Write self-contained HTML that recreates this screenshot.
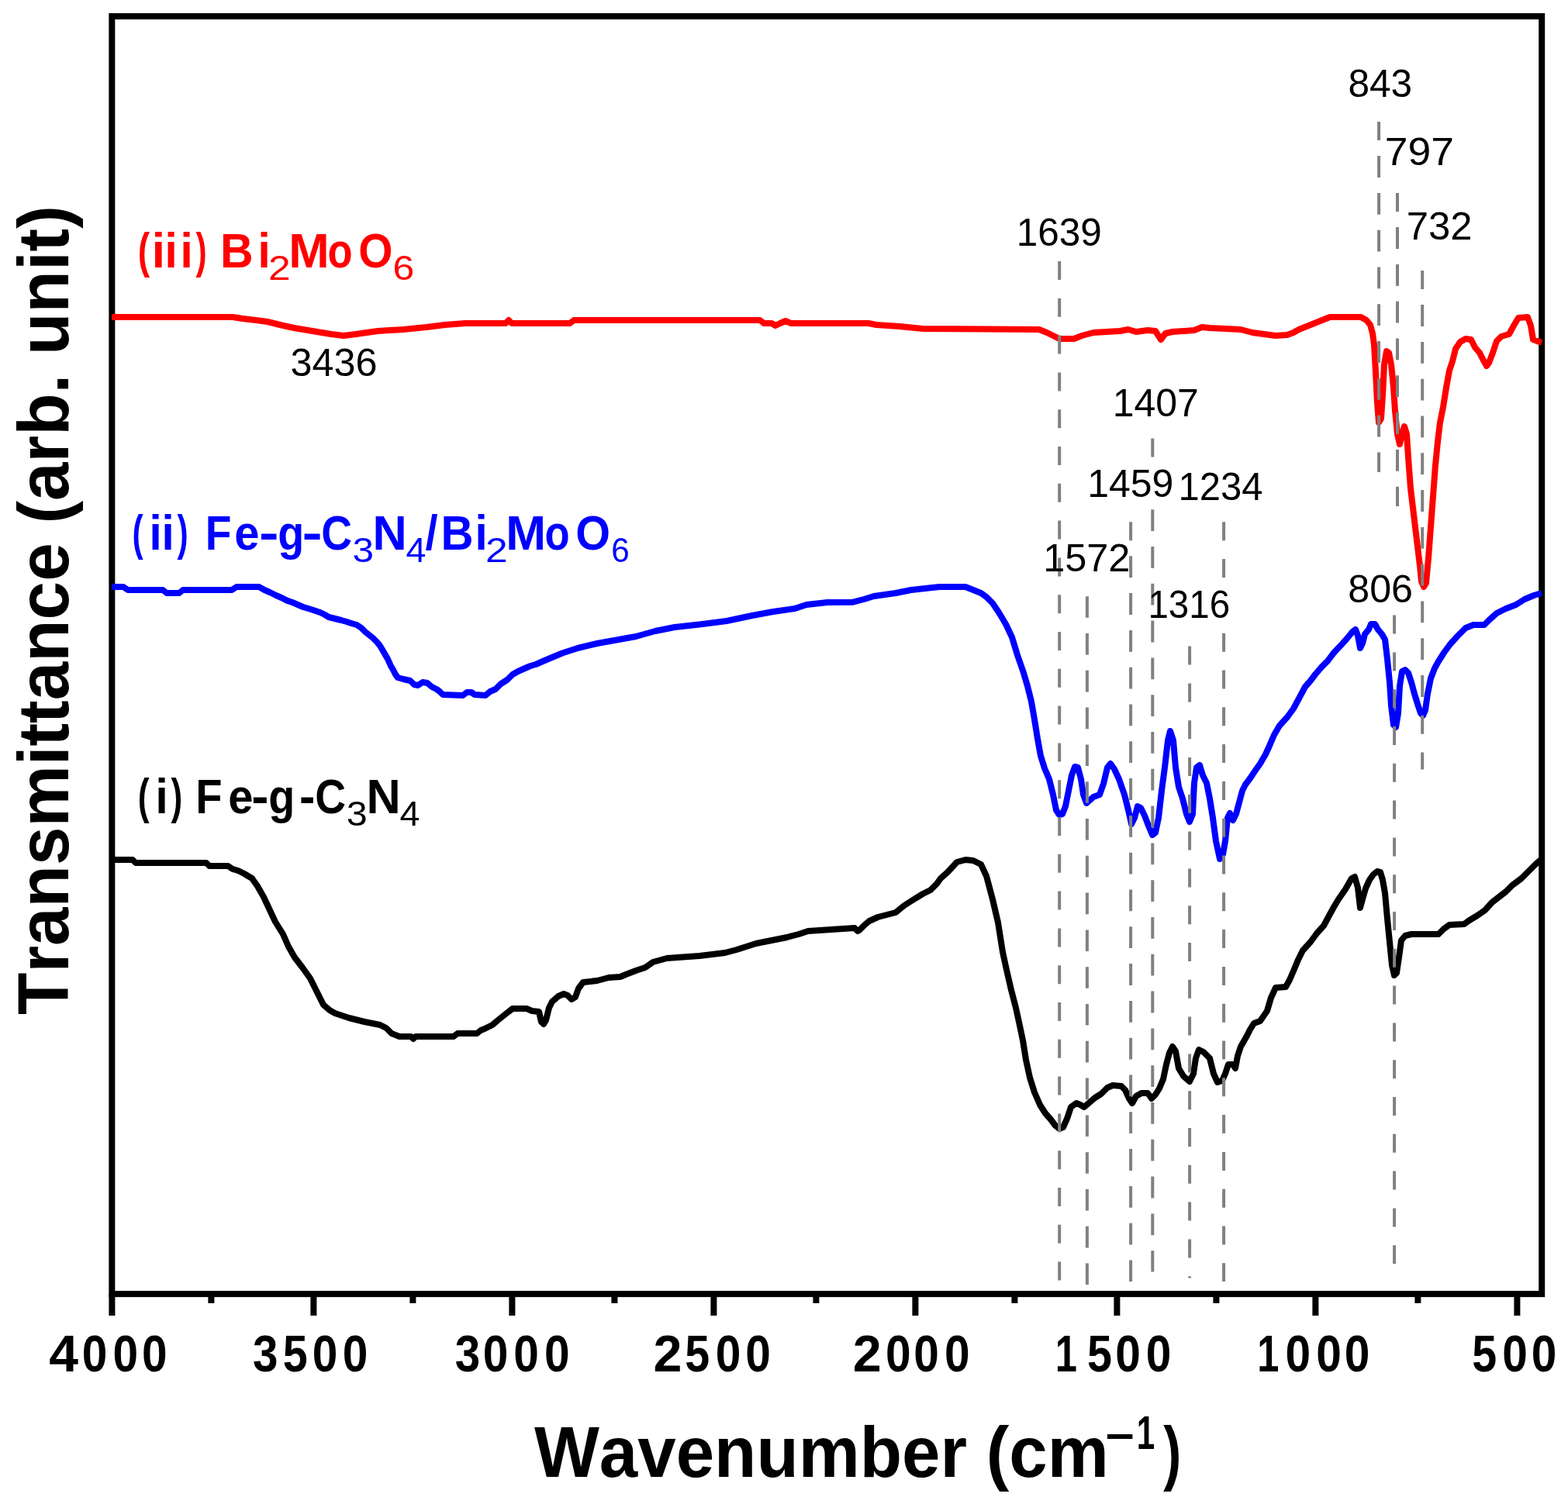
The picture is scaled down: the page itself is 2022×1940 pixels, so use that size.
<!DOCTYPE html><html><head><meta charset="utf-8"><title>FTIR spectra</title>
<style>html,body{margin:0;padding:0;background:#fff;}svg{display:block;}text{font-family:'Liberation Sans', Arial, Helvetica, sans-serif;font-kerning:none;}</style></head><body>
<svg width="2022" height="1940" viewBox="0 0 2022 1940">
<rect x="0" y="0" width="2022" height="1940" fill="#fff"/>
<rect x="144.35" y="21.05" width="1843.85" height="1648.05" fill="none" stroke="#000" stroke-width="8"/>
<path d="M144.4,1669V1697M272.4,1669V1681M404.4,1669V1697M532.4,1669V1681M660.4,1669V1697M792.4,1669V1681M920.4,1669V1697M1052.4,1669V1681M1180.4,1669V1697M1308.4,1669V1681M1440.4,1669V1697M1568.4,1669V1681M1696.4,1669V1697M1828.4,1669V1681M1956.4,1669V1697" stroke="#000" stroke-width="8" fill="none"/>
<text y="1768.6" font-size="67.5" font-weight="bold"><tspan x="63.27" textLength="37.79" lengthAdjust="spacingAndGlyphs">4</tspan><tspan x="105.83" textLength="32.63" lengthAdjust="spacingAndGlyphs">0</tspan><tspan x="145.53" textLength="32.63" lengthAdjust="spacingAndGlyphs">0</tspan><tspan x="183.03" textLength="32.63" lengthAdjust="spacingAndGlyphs">0</tspan></text>
<text y="1768.6" font-size="67.5" font-weight="bold"><tspan x="325.96" textLength="32.45" lengthAdjust="spacingAndGlyphs">3</tspan><tspan x="364.83" textLength="31.97" lengthAdjust="spacingAndGlyphs">5</tspan><tspan x="402.63" textLength="32.63" lengthAdjust="spacingAndGlyphs">0</tspan><tspan x="441.83" textLength="32.63" lengthAdjust="spacingAndGlyphs">0</tspan></text>
<text y="1768.6" font-size="67.5" font-weight="bold"><tspan x="586.66" textLength="32.45" lengthAdjust="spacingAndGlyphs">3</tspan><tspan x="622.73" textLength="32.63" lengthAdjust="spacingAndGlyphs">0</tspan><tspan x="662.23" textLength="32.63" lengthAdjust="spacingAndGlyphs">0</tspan><tspan x="701.93" textLength="32.63" lengthAdjust="spacingAndGlyphs">0</tspan></text>
<text y="1768.6" font-size="67.5" font-weight="bold"><tspan x="842.40" textLength="36.97" lengthAdjust="spacingAndGlyphs">2</tspan><tspan x="883.13" textLength="31.97" lengthAdjust="spacingAndGlyphs">5</tspan><tspan x="922.63" textLength="32.63" lengthAdjust="spacingAndGlyphs">0</tspan><tspan x="961.23" textLength="32.63" lengthAdjust="spacingAndGlyphs">0</tspan></text>
<text y="1768.6" font-size="67.5" font-weight="bold"><tspan x="1099.70" textLength="36.97" lengthAdjust="spacingAndGlyphs">2</tspan><tspan x="1141.93" textLength="32.63" lengthAdjust="spacingAndGlyphs">0</tspan><tspan x="1178.33" textLength="32.63" lengthAdjust="spacingAndGlyphs">0</tspan><tspan x="1218.03" textLength="32.63" lengthAdjust="spacingAndGlyphs">0</tspan></text>
<text y="1768.6" font-size="67.5" font-weight="bold"><tspan x="1360.71" textLength="28.21" lengthAdjust="spacingAndGlyphs">1</tspan><tspan x="1401.93" textLength="31.97" lengthAdjust="spacingAndGlyphs">5</tspan><tspan x="1438.23" textLength="32.63" lengthAdjust="spacingAndGlyphs">0</tspan><tspan x="1477.73" textLength="32.63" lengthAdjust="spacingAndGlyphs">0</tspan></text>
<text y="1768.6" font-size="67.5" font-weight="bold"><tspan x="1621.31" textLength="28.21" lengthAdjust="spacingAndGlyphs">1</tspan><tspan x="1657.53" textLength="32.63" lengthAdjust="spacingAndGlyphs">0</tspan><tspan x="1697.23" textLength="32.63" lengthAdjust="spacingAndGlyphs">0</tspan><tspan x="1733.63" textLength="32.63" lengthAdjust="spacingAndGlyphs">0</tspan></text>
<text y="1768.6" font-size="67.5" font-weight="bold"><tspan x="1898.23" textLength="31.97" lengthAdjust="spacingAndGlyphs">5</tspan><tspan x="1937.13" textLength="32.63" lengthAdjust="spacingAndGlyphs">0</tspan><tspan x="1974.63" textLength="32.63" lengthAdjust="spacingAndGlyphs">0</tspan></text>
<polyline points="144,409 300,409 313,411 330,413 345,415 361,419 379,423 403,427 427,431 443,433 459,431 487,427 520,425 550,422 574,419 600,417 652,417 656,413 660,417 735,417 740,413 980,413 985,417 995,417 1000,420 1006,417 1013,414 1020,417 1120,417 1130,419 1160,421 1190,424 1340,425 1350,429 1358,433 1366,437 1385,437 1395,433 1410,429 1444,427 1455,425 1465,428 1480,426 1490,427 1497,438 1503,430 1512,428 1540,426 1550,422 1560,423 1600,425 1615,429 1630,431 1645,433 1660,432 1668,429 1675,425 1685,421 1695,417 1705,413 1715,409 1755,409 1762,413 1767,419 1770,430 1772,445 1774,480 1776,520 1778,545 1781,540 1783,510 1785,470 1788,453 1791,455 1794,470 1797,500 1799,530 1802,560 1805,573 1808,560 1811,550 1814,560 1816,590 1819,630 1822,655 1825,680 1828,705 1831,730 1833,750 1836,757 1839,752 1842,720 1845,680 1848,640 1851,600 1854,570 1857,545 1861,525 1865,500 1869,478 1873,466 1877,450 1883,441 1890,437 1897,438 1902,448 1908,455 1913,465 1917,472 1920,468 1925,455 1930,440 1936,434 1946,431 1952,420 1958,410 1970,409 1974,420 1977,438 1988,442" fill="none" stroke="#ff0000" stroke-width="8" stroke-linejoin="round"/>
<polyline points="144,757 159,757 165,761 210,761 215,765 231,765 236,761 299,761 305,757 334,757 341,761 348,764 356,768 363,771 370,774.6 377,777 384,780 391,783 401,786 407,788 413,790 419,793 424,796 432,798 440,800 447,802 453,804 460,806 466,810 471,815 476,819 481,823 486,828 490,833 493,838 497,845 500,850 504,859 507,864 510,870 513,874 520,876 529,878 534,883 539,884 545,880 551,881 557,886 563,889 567,892 571,896 597,897 602,893 608,893 612,896 626,897 632,892 639,889 646,882 654,877 661,870 668,866 677,862 684,859 691,857 700,853 707,850 725,842.5 745,836 770,830 795,825.5 820,821 845,814 870,809 902,805.5 937,801 970,794 997,789 1025,785 1040,780 1067,777 1100,776.7 1114,773 1127,769 1155,765 1175,761 1211,757 1245,757 1255,761 1265,765 1272,770 1280,778 1288,790 1297,805 1305,822 1312,845 1320,868 1325,885 1330,905 1334,928 1338,953 1342,975 1347,991 1353,1005 1358,1025 1362,1045 1366,1051 1370,1050 1374,1040 1378,1020 1382,1000 1386,989 1390,990 1394,1005 1397,1025 1401,1036 1410,1028 1418,1025 1423,1011 1428,990 1432,985 1437,992 1443,1005 1450,1025 1455,1045 1459,1063 1463,1055 1467,1040 1471,1042 1476,1052 1481,1065 1486,1077 1490,1074 1494,1055 1498,1020 1502,990 1506,955 1509,943 1513,955 1516,990 1520,1015 1525,1030 1530,1050 1534,1060 1538,1050 1540,1010 1543,990 1547,987 1551,1000 1556,1010 1560,1030 1564,1055 1568,1085 1573,1108 1577,1102 1580,1085 1583,1055 1586,1049 1590,1058 1594,1050 1598,1035 1602,1020 1606,1012 1612,1004 1618,995 1625,985 1632,973 1637,962 1643,948 1650,936 1660,925 1668,914 1675,901 1683,886 1690,878 1696,870 1704,860.6 1712,852.7 1720,842 1728,833.6 1736,824.8 1744,815 1748,812 1751,820 1754,836 1757,830 1760,818 1765,812 1768,805 1773,805 1777,812 1782,818 1786,825 1789,850 1792,880 1794,910 1797,935 1800,938 1803,920 1805,885 1808,866 1812,864 1816,868 1820,880 1824,895 1828,908 1832,920 1835,923 1838,916 1841,895 1845,875 1850,862 1855,853 1862,842 1870,831 1880,820 1890,810 1900,806 1914,806 1920,800 1930,791 1942,785 1955,780 1966,773 1978,768 1988,765" fill="none" stroke="#0000ff" stroke-width="8" stroke-linejoin="round"/>
<polyline points="144,1109 171,1109 175,1113 266,1113 270,1117 294,1117 300,1121 307,1123 315,1127 325,1133 332,1143 340,1157 347,1172 355,1189 365,1205 372,1221 380,1235 390,1248 400,1262 409,1280 417,1296 425,1303 432,1307 450,1313 470,1318 490,1322 498,1326 505,1333 515,1337 530,1337 533,1340 536,1337 585,1337 590,1333 615,1333 620,1329 625,1327 635,1322 642,1316 652,1308 661,1301 679,1301 686,1304 695,1305 698,1318 701,1321 704,1316 708,1300 712,1292 720,1285 727,1282 732,1284 737,1289 742,1286 746,1275 752,1267 770,1265 785,1261 800,1260 807,1257 820,1252 832,1248 842,1241 860,1236 902,1233 935,1229 950,1225 975,1217 1015,1209 1030,1205 1042,1201 1102,1197 1106,1201 1108,1200 1115,1193 1121,1188 1132,1183 1155,1177 1166,1168 1177,1161 1190,1153 1200,1148 1208,1140 1213,1133 1222,1125 1234,1112 1245,1109 1255,1110 1265,1115 1272,1130 1280,1160 1287,1190 1293,1228 1298,1251 1304,1277 1310,1300 1315,1323 1319,1342 1323,1367 1328,1390 1334,1409 1341,1425 1348,1436 1355,1444 1361,1452 1366,1456 1371,1454 1376,1443 1381,1428 1388,1423 1393,1425 1398,1428 1405,1422 1412,1416 1420,1411 1428,1403 1435,1400 1446,1401 1451,1406 1456,1417 1460,1423 1465,1414 1472,1410 1480,1410 1485,1417 1490,1412 1495,1404 1500,1392 1504,1373 1508,1358 1512,1350 1516,1356 1520,1378 1526,1388 1534,1395 1539,1385 1542,1365 1546,1354 1552,1357 1560,1365 1565,1385 1570,1396 1576,1394 1580,1385 1584,1373 1590,1373 1593,1378 1596,1362 1600,1350 1604,1343 1608,1336 1612,1328 1617,1320 1625,1317 1634,1304 1639,1287 1645,1274 1658,1273 1663,1264 1669,1250 1674,1238 1680,1226 1690,1215 1698,1204 1707,1194 1714,1181 1720,1170 1726,1160 1735,1147 1743,1133 1747,1131 1751,1145 1754,1171 1757,1160 1761,1146 1766,1135 1771,1128 1776,1124 1780,1125 1783,1135 1786,1152 1789,1185 1792,1215 1795,1245 1798,1258 1801,1255 1804,1235 1807,1213 1812,1207 1820,1205 1855,1205 1862,1198 1869,1193 1888,1192 1895,1187 1905,1181 1915,1174 1924,1164 1933,1157 1942,1150 1950,1142 1962,1133 1972,1123 1980,1115 1988,1108" fill="none" stroke="#000000" stroke-width="8" stroke-linejoin="round"/>
<path d="M1366.2,337.0V361.0M1366.2,384.8V408.8M1366.2,432.6V456.6M1366.2,480.4V504.4M1366.2,528.2V552.2M1366.2,576.0V600.0M1366.2,623.8V647.8M1366.2,671.6V695.6M1366.2,719.4V743.4M1366.2,767.2V791.2M1366.2,815.0V839.0M1366.2,862.8V886.8M1366.2,910.6V934.6M1366.2,958.4V982.4M1366.2,1006.2V1030.2M1366.2,1054.0V1078.0M1366.2,1101.8V1125.8M1366.2,1149.6V1173.6M1366.2,1197.4V1221.4M1366.2,1245.2V1269.2M1366.2,1293.0V1317.0M1366.2,1340.8V1364.8M1366.2,1388.6V1412.6M1366.2,1436.4V1460.4M1366.2,1484.2V1508.2M1366.2,1532.0V1556.0M1366.2,1579.8V1603.8M1366.2,1627.6V1651.6M1401.9,769.2V796.8M1401.9,817.0V844.6M1401.9,864.8V892.4M1401.9,912.6V940.2M1401.9,960.4V988.0M1401.9,1008.2V1035.8M1401.9,1056.0V1083.6M1401.9,1103.8V1131.4M1401.9,1151.6V1179.2M1401.9,1199.4V1227.0M1401.9,1247.2V1274.8M1401.9,1295.0V1322.6M1401.9,1342.8V1370.4M1401.9,1390.6V1418.2M1401.9,1438.4V1466.0M1401.9,1486.2V1513.8M1401.9,1534.0V1561.6M1401.9,1581.8V1609.4M1401.9,1629.6V1657.0M1458.1,673.3V697.3M1458.1,721.1V745.1M1458.1,768.9V792.9M1458.1,816.7V840.7M1458.1,864.5V888.5M1458.1,912.3V936.3M1458.1,960.1V984.1M1458.1,1007.9V1031.9M1458.1,1055.7V1079.7M1458.1,1103.5V1127.5M1458.1,1151.3V1175.3M1458.1,1199.1V1223.1M1458.1,1246.9V1270.9M1458.1,1294.7V1318.7M1458.1,1342.5V1366.5M1458.1,1390.3V1414.3M1458.1,1438.1V1462.1M1458.1,1485.9V1509.9M1458.1,1533.7V1557.7M1458.1,1581.5V1605.5M1458.1,1629.3V1653.0M1458.1,717.3V741.3M1458.1,765.1V789.1M1458.1,812.9V836.9M1458.1,860.7V884.7M1458.1,908.5V932.5M1458.1,956.3V980.3M1458.1,1004.1V1028.1M1458.1,1051.9V1075.9M1458.1,1099.7V1123.7M1458.1,1147.5V1171.5M1458.1,1195.3V1219.3M1458.1,1243.1V1267.1M1458.1,1290.9V1314.9M1458.1,1338.7V1362.7M1458.1,1386.5V1410.5M1458.1,1434.3V1458.3M1458.1,1482.1V1506.1M1458.1,1529.9V1553.9M1458.1,1577.7V1601.7M1458.1,1625.5V1649.5M1486.3,565.4V589.4M1486.3,613.2V637.2M1486.3,661.0V685.0M1486.3,708.8V732.8M1486.3,756.6V780.6M1486.3,804.4V828.4M1486.3,852.2V876.2M1486.3,900.0V924.0M1486.3,947.8V971.8M1486.3,995.6V1019.6M1486.3,1043.4V1067.4M1486.3,1091.2V1115.2M1486.3,1139.0V1163.0M1486.3,1186.8V1210.8M1486.3,1234.6V1258.6M1486.3,1282.4V1306.4M1486.3,1330.2V1354.2M1486.3,1378.0V1402.0M1486.3,1425.8V1449.8M1486.3,1473.6V1497.6M1486.3,1521.4V1545.4M1486.3,1569.2V1593.2M1486.3,1617.0V1640.4M1486.3,609.4V633.4M1486.3,657.2V681.2M1486.3,705.0V729.0M1486.3,752.8V776.8M1486.3,800.6V824.6M1486.3,848.4V872.4M1486.3,896.2V920.2M1486.3,944.0V968.0M1486.3,991.8V1015.8M1486.3,1039.6V1063.6M1486.3,1087.4V1111.4M1486.3,1135.2V1159.2M1486.3,1183.0V1207.0M1486.3,1230.8V1254.8M1486.3,1278.6V1302.6M1486.3,1326.4V1350.4M1486.3,1374.2V1398.2M1486.3,1422.0V1446.0M1486.3,1469.8V1493.8M1486.3,1517.6V1541.6M1486.3,1565.4V1589.4M1486.3,1613.2V1637.2M1534.1,833.6V857.6M1534.1,881.4V905.4M1534.1,929.2V953.2M1534.1,977.0V1001.0M1534.1,1024.8V1048.8M1534.1,1072.6V1096.6M1534.1,1120.4V1144.4M1534.1,1168.2V1192.2M1534.1,1216.0V1240.0M1534.1,1263.8V1287.8M1534.1,1311.6V1335.6M1534.1,1359.4V1383.4M1534.1,1407.2V1431.2M1534.1,1455.0V1479.0M1534.1,1502.8V1526.8M1534.1,1550.6V1574.6M1534.1,1598.4V1622.4M1534.1,1646.2V1648.4M1578.1,673.3V697.3M1578.1,721.1V745.1M1578.1,768.9V792.9M1578.1,816.7V840.7M1578.1,864.5V888.5M1578.1,912.3V936.3M1578.1,960.1V984.1M1578.1,1007.9V1031.9M1578.1,1055.7V1079.7M1578.1,1103.5V1127.5M1578.1,1151.3V1175.3M1578.1,1199.1V1223.1M1578.1,1246.9V1270.9M1578.1,1294.7V1318.7M1578.1,1342.5V1366.5M1578.1,1390.3V1414.3M1578.1,1438.1V1462.1M1578.1,1485.9V1509.9M1578.1,1533.7V1557.7M1578.1,1581.5V1605.5M1578.1,1629.3V1653.0M1798.1,793.6V817.6M1798.1,841.4V865.4M1798.1,889.2V913.2M1798.1,937.0V961.0M1798.1,984.8V1008.8M1798.1,1032.6V1056.6M1798.1,1080.4V1104.4M1798.1,1128.2V1152.2M1798.1,1176.0V1200.0M1798.1,1223.8V1247.8M1798.1,1271.6V1295.6M1798.1,1319.4V1343.4M1798.1,1367.2V1391.2M1798.1,1415.0V1439.0M1798.1,1462.8V1486.8M1798.1,1510.6V1534.6M1798.1,1558.4V1582.4M1798.1,1606.2V1630.2M1778.1,157.1V181.1M1778.1,204.9V228.9M1778.1,252.7V276.7M1778.1,300.5V324.5M1778.1,348.3V372.3M1778.1,396.1V420.1M1778.1,443.9V467.9M1778.1,491.7V515.7M1778.1,539.5V563.5M1778.1,587.3V609.0M1778.1,201.1V225.1M1778.1,248.9V272.9M1778.1,296.7V320.7M1778.1,344.5V368.5M1778.1,392.3V416.3M1778.1,440.1V464.1M1778.1,487.9V511.9M1778.1,535.7V559.7M1778.1,583.5V607.5M1802,249.1V273.1M1802,296.9V320.9M1802,344.7V368.7M1802,392.5V416.5M1802,440.3V464.3M1802,488.1V512.1M1802,535.9V559.9M1802,583.7V607.7M1802,631.5V653.0M1802,293.1V317.1M1802,340.9V364.9M1802,388.7V412.7M1802,436.5V460.5M1802,484.3V508.3M1802,532.1V556.1M1802,579.9V603.9M1802,627.7V651.7M1834.2,349.1V373.1M1834.2,396.9V420.9M1834.2,444.7V468.7M1834.2,492.5V516.5M1834.2,540.3V564.3M1834.2,588.1V612.1M1834.2,635.9V659.9M1834.2,683.7V707.7M1834.2,731.5V755.5M1834.2,779.3V803.3M1834.2,827.1V851.1M1834.2,874.9V898.9M1834.2,922.7V946.7M1834.2,970.5V992.5M1834.2,393.1V417.1M1834.2,440.9V464.9M1834.2,488.7V512.7M1834.2,536.5V560.5M1834.2,584.3V608.3M1834.2,632.1V656.1M1834.2,679.9V703.9M1834.2,727.7V751.7M1834.2,775.5V799.5M1834.2,823.3V847.3M1834.2,871.1V895.1" stroke="#808080" stroke-width="4" fill="none"/>
<rect x="1404" y="603" width="110" height="40" fill="#fff"/>
<rect x="1490" y="757" width="102" height="42" fill="#fff"/>
<text x="1738.45" y="124.5" font-size="50" textLength="82.73" lengthAdjust="spacingAndGlyphs">843</text>
<text x="1785.66" y="212.9" font-size="50" textLength="89.23" lengthAdjust="spacingAndGlyphs">797</text>
<text x="1813.69" y="308.6" font-size="50" textLength="84.87" lengthAdjust="spacingAndGlyphs">732</text>
<text x="1310.73" y="316.9" font-size="50" textLength="110.01" lengthAdjust="spacingAndGlyphs">1639</text>
<text x="374.48" y="485.0" font-size="50" textLength="112.03" lengthAdjust="spacingAndGlyphs">3436</text>
<text x="1434.69" y="536.8" font-size="50" textLength="111.22" lengthAdjust="spacingAndGlyphs">1407</text>
<text x="1402.19" y="640.7" font-size="50" textLength="111.17" lengthAdjust="spacingAndGlyphs">1459</text>
<text x="1519.57" y="645.2" font-size="50" textLength="109.07" lengthAdjust="spacingAndGlyphs">1234</text>
<text x="1345.16" y="736.5" font-size="50" textLength="112.28" lengthAdjust="spacingAndGlyphs">1572</text>
<text x="1480.38" y="796.7" font-size="50" textLength="105.71" lengthAdjust="spacingAndGlyphs">1316</text>
<text x="1738.32" y="776.6" font-size="50" textLength="83.68" lengthAdjust="spacingAndGlyphs">806</text>
<text font-size="63" font-weight="bold" fill="#ff0000"><tspan x="177.71" y="344.5" textLength="15.34" lengthAdjust="spacingAndGlyphs">(</tspan><tspan x="195.67" y="344.5" textLength="17.21" lengthAdjust="spacingAndGlyphs">i</tspan><tspan x="212.43" y="344.5" textLength="16.20" lengthAdjust="spacingAndGlyphs">i</tspan><tspan x="232.43" y="344.5" textLength="16.20" lengthAdjust="spacingAndGlyphs">i</tspan><tspan x="252.46" y="344.5" textLength="14.16" lengthAdjust="spacingAndGlyphs">)</tspan><tspan> </tspan><tspan x="284.05" y="344.5" textLength="42.63" lengthAdjust="spacingAndGlyphs">B</tspan><tspan x="332.43" y="344.5" textLength="16.20" lengthAdjust="spacingAndGlyphs">i</tspan><tspan x="345.91" y="360.5" textLength="28.69" lengthAdjust="spacingAndGlyphs" font-size="44" font-weight="normal">2</tspan><tspan x="372.29" y="344.5" textLength="52.42" lengthAdjust="spacingAndGlyphs">M</tspan><tspan x="422.45" y="344.5" textLength="32.11" lengthAdjust="spacingAndGlyphs">o</tspan><tspan x="462.17" y="344.5" textLength="44.22" lengthAdjust="spacingAndGlyphs">O</tspan><tspan x="506.47" y="360.5" textLength="27.72" lengthAdjust="spacingAndGlyphs" font-size="44" font-weight="normal">6</tspan></text>
<text font-size="63" font-weight="bold" fill="#0000ff"><tspan x="170.38" y="709" textLength="14.16" lengthAdjust="spacingAndGlyphs">(</tspan><tspan x="192.43" y="709" textLength="16.20" lengthAdjust="spacingAndGlyphs">i</tspan><tspan x="208.43" y="709" textLength="16.20" lengthAdjust="spacingAndGlyphs">i</tspan><tspan x="228.46" y="709" textLength="14.16" lengthAdjust="spacingAndGlyphs">)</tspan><tspan> </tspan><tspan x="264.81" y="709" textLength="33.71" lengthAdjust="spacingAndGlyphs">F</tspan><tspan x="302.24" y="709" textLength="32.25" lengthAdjust="spacingAndGlyphs">e</tspan><tspan x="334.00" y="709" textLength="25.58" lengthAdjust="spacingAndGlyphs">-</tspan><tspan x="358.22" y="709" textLength="34.01" lengthAdjust="spacingAndGlyphs">g</tspan><tspan x="389.42" y="709" textLength="26.23" lengthAdjust="spacingAndGlyphs">-</tspan><tspan x="414.24" y="709" textLength="39.76" lengthAdjust="spacingAndGlyphs">C</tspan><tspan x="454.61" y="724.5" textLength="27.57" lengthAdjust="spacingAndGlyphs" font-size="44" font-weight="normal">3</tspan><tspan x="480.40" y="709" textLength="44.22" lengthAdjust="spacingAndGlyphs">N</tspan><tspan x="523.43" y="724.5" textLength="25.94" lengthAdjust="spacingAndGlyphs" font-size="44" font-weight="normal">4</tspan><tspan x="548.43" y="709" textLength="16.13" lengthAdjust="spacingAndGlyphs">/</tspan><tspan x="568.61" y="709" textLength="42.04" lengthAdjust="spacingAndGlyphs">B</tspan><tspan x="612.43" y="709" textLength="16.20" lengthAdjust="spacingAndGlyphs">i</tspan><tspan x="625.91" y="724.5" textLength="28.69" lengthAdjust="spacingAndGlyphs" font-size="44" font-weight="normal">2</tspan><tspan x="652.34" y="709" textLength="51.82" lengthAdjust="spacingAndGlyphs">M</tspan><tspan x="702.45" y="709" textLength="32.11" lengthAdjust="spacingAndGlyphs">o</tspan><tspan x="742.14" y="709" textLength="44.78" lengthAdjust="spacingAndGlyphs">O</tspan><tspan x="788.35" y="724.5" textLength="23.50" lengthAdjust="spacingAndGlyphs" font-size="44" font-weight="normal">6</tspan></text>
<text font-size="63" font-weight="bold" fill="#000000"><tspan x="177.79" y="1049" textLength="14.75" lengthAdjust="spacingAndGlyphs">(</tspan><tspan x="200.43" y="1049" textLength="16.20" lengthAdjust="spacingAndGlyphs">i</tspan><tspan x="220.46" y="1049" textLength="14.75" lengthAdjust="spacingAndGlyphs">)</tspan><tspan> </tspan><tspan x="252.24" y="1049" textLength="34.32" lengthAdjust="spacingAndGlyphs">F</tspan><tspan x="294.24" y="1049" textLength="32.25" lengthAdjust="spacingAndGlyphs">e</tspan><tspan x="324.38" y="1049" textLength="22.30" lengthAdjust="spacingAndGlyphs">-</tspan><tspan x="346.22" y="1049" textLength="34.01" lengthAdjust="spacingAndGlyphs">g</tspan><tspan x="386.12" y="1049" textLength="20.33" lengthAdjust="spacingAndGlyphs">-</tspan><tspan x="406.24" y="1049" textLength="39.76" lengthAdjust="spacingAndGlyphs">C</tspan><tspan x="446.65" y="1064.5" textLength="26.98" lengthAdjust="spacingAndGlyphs" font-size="44" font-weight="normal">3</tspan><tspan x="472.40" y="1049" textLength="44.22" lengthAdjust="spacingAndGlyphs">N</tspan><tspan x="515.43" y="1064.5" textLength="25.94" lengthAdjust="spacingAndGlyphs" font-size="44" font-weight="normal">4</tspan></text>
<text font-size="92" font-weight="bold"><tspan x="688.91" y="1905" textLength="740.90" lengthAdjust="spacingAndGlyphs">Wavenumber (cm</tspan><tspan x="1426.02" y="1868.8" font-size="62" textLength="36.39" lengthAdjust="spacingAndGlyphs">–</tspan><tspan x="1465.75" y="1868.8" font-size="62" textLength="23.43" lengthAdjust="spacingAndGlyphs">1</tspan><tspan x="1500.13" y="1905" textLength="23.13" lengthAdjust="spacingAndGlyphs">)</tspan></text>
<text transform="translate(88.4,1308) rotate(-90)" x="-1.00" y="0" font-size="92" font-weight="bold" textLength="1043.93" lengthAdjust="spacingAndGlyphs">Transmittance (arb. unit)</text>
</svg></body></html>
